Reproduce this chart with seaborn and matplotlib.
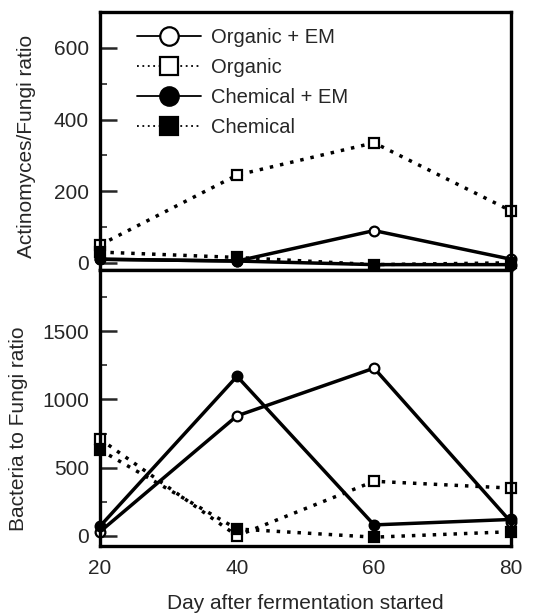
import seaborn as sns
import numpy as np
import pandas as pd
import matplotlib.pyplot as plt
from matplotlib.ticker import MultipleLocator

days = [20, 40, 60, 80]
series = ["Organic + EM", "Organic", "Chemical + EM", "Chemical"]

# Actinomyces/Fungi ratio
act_org_em = [10, 5, 90, 10]
act_org = [50, 245, 335, 145]
act_chem_em = [10, 5, -5, -5]
act_chem = [30, 15, -5, 0]

# Bacteria to Fungi ratio
bac_org_em = [30, 880, 1230, 100]
bac_org = [710, 0, 400, 350]
bac_chem_em = [70, 1170, 80, 120]
bac_chem = [630, 50, -10, 30]

styles = {
    "Organic + EM": dict(marker="o", mfc="white", ls="-"),
    "Organic": dict(marker="s", mfc="white", ls=(0, (1, 2))),
    "Chemical + EM": dict(marker="o", mfc="black", ls="-"),
    "Chemical": dict(marker="s", mfc="black", ls=(0, (1, 2))),
}

sns.set_style("white")
plt.rcParams["font.family"] = ["Liberation Sans", "DejaVu Sans"]

fig = plt.figure(figsize=(5.42, 6.16), dpi=100)
ax1 = fig.add_axes([0.1845, 0.5617, 0.7585, 0.4188])
ax2 = fig.add_axes([0.1845, 0.1136, 0.7585, 0.4481])

top = dict(zip(series, [act_org_em, act_org, act_chem_em, act_chem]))
bot = dict(zip(series, [bac_org_em, bac_org, bac_chem_em, bac_chem]))

for ax, d in [(ax1, top), (ax2, bot)]:
    for name in series:
        st = styles[name]
        df = pd.DataFrame({"day": days, "val": d[name]})
        sns.lineplot(data=df, x="day", y="val", ax=ax, color="black",
                     linewidth=2.5, linestyle=st["ls"], marker=st["marker"],
                     markersize=7, markerfacecolor=st["mfc"],
                     markeredgecolor="black", markeredgewidth=1.6,
                     label=name if ax is ax1 else None, clip_on=False)
    ax.set_xlim(20, 80)
    for s in ax.spines.values():
        s.set_linewidth(2.4)
        s.set_color("black")
    ax.tick_params(axis="y", direction="in", length=12, width=1.8,
                   labelsize=15, left=True, pad=8)
    ax.tick_params(axis="y", which="minor", direction="in", length=5,
                   width=1.2, left=True)
    ax.set_xlabel("")

ax1.set_ylim(-20, 700)
ax1.set_yticks([0, 200, 400, 600])
ax1.yaxis.set_minor_locator(MultipleLocator(100))
ax1.set_xticks([])
ax1.set_ylabel("Actinomyces/Fungi ratio", fontsize=15)
ax1.yaxis.set_label_coords(-0.155, 0.477)

ax2.set_ylim(-75, 1950)
ax2.set_yticks([0, 500, 1000, 1500])
ax2.yaxis.set_minor_locator(MultipleLocator(250))
ax2.set_xticks(days)
ax2.tick_params(axis="x", length=0, labelsize=15, pad=9)
ax2.set_ylabel("Bacteria to Fungi ratio", fontsize=15)
ax2.yaxis.set_label_coords(-0.175, 0.424)
ax2.set_xlabel("Day after fermentation started", fontsize=15, labelpad=12)

leg = ax1.legend(loc="upper left", bbox_to_anchor=(0.06, 0.985), frameon=False,
                 fontsize=14.5, markerscale=1.9, handlelength=3.2,
                 labelspacing=0.55, handletextpad=0.5, borderaxespad=0.2)
for line in leg.get_lines():
    line.set_linewidth(1.3)

fig.savefig("out.png", dpi=100)
